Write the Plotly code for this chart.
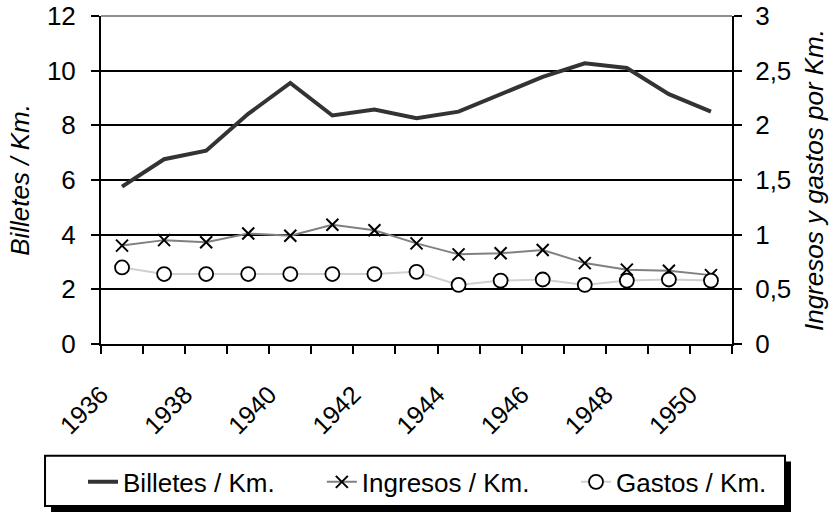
import plotly.graph_objects as go

years = list(range(1936, 1951))
billetes = [5.76, 6.76, 7.07, 8.42, 9.55, 8.36, 8.58, 8.26, 8.50, 9.14, 9.77, 10.27, 10.10, 9.14, 8.50]
ingresos = [0.90, 0.95, 0.93, 1.01, 0.99, 1.09, 1.04, 0.92, 0.82, 0.83, 0.86, 0.74, 0.68, 0.67, 0.63]
gastos = [0.70, 0.64, 0.64, 0.64, 0.64, 0.64, 0.64, 0.66, 0.54, 0.58, 0.59, 0.54, 0.58, 0.59, 0.58]

tick_years = list(range(1936, 1952))
tick_text = [str(y) if (y % 2 == 0 and y <= 1950) else "" for y in tick_years]

# annual values plotted mid-year
xpos = [y + 0.5 for y in years]

FONT = "Liberation Sans, Arial, sans-serif"

fig = go.Figure()
fig.add_trace(go.Scatter(
    x=xpos, y=billetes, name="Billetes / Km.", mode="lines",
    line=dict(color="#333333", width=4), yaxis="y", legend="legend"))
fig.add_trace(go.Scatter(
    x=xpos, y=ingresos, name="Ingresos / Km.", mode="lines+markers",
    line=dict(color="#808080", width=2),
    marker=dict(symbol="x-thin", size=12, color="black",
                line=dict(color="black", width=2)),
    yaxis="y2", legend="legend2"))
fig.add_trace(go.Scatter(
    x=xpos, y=gastos, name="Gastos / Km.", mode="lines+markers",
    line=dict(color="#d0d0d0", width=2),
    marker=dict(symbol="circle", size=14, color="white",
                line=dict(color="black", width=1.8)),
    yaxis="y2", legend="legend3"))

leg_common = dict(orientation="h", xanchor="left", y=-0.349, yanchor="top",
                  bgcolor="rgba(0,0,0,0)", borderwidth=0, font=dict(size=26))

fig.update_layout(
    width=838, height=518,
    margin=dict(l=101, r=106, t=16, b=170),
    paper_bgcolor="white", plot_bgcolor="white",
    separators=",.",
    font=dict(family=FONT, size=26, color="black"),
    showlegend=True,
    legend=dict(x=-0.0285, **leg_common),
    legend2=dict(x=0.3500, **leg_common),
    legend3=dict(x=0.7528, **leg_common),
    xaxis=dict(range=[1936, 1951], tickmode="array", tickvals=tick_years,
               ticktext=tick_text, tickangle=-45, ticks="outside", ticklen=8,
               tickwidth=2, tickcolor="black", showline=True, linecolor="black",
               linewidth=2, showgrid=False, zeroline=False,
               ticklabelstandoff=16,
               tickfont=dict(size=25), automargin=False),
    yaxis=dict(range=[0, 12], dtick=2, ticks="outside", ticklen=8, tickwidth=2,
               tickcolor="black", showline=True, linecolor="black", linewidth=2,
               showgrid=True, gridcolor="black", gridwidth=2, zeroline=False,
               ticklabelstandoff=10,
               title=dict(text="Billetes / Km.", standoff=10,
                          font=dict(size=26, style="italic")),
               automargin=False),
    yaxis2=dict(range=[0, 3], dtick=0.5, overlaying="y", side="right",
                ticks="outside", ticklen=8, tickwidth=2, tickcolor="black",
                showline=True, linecolor="black", linewidth=2, showgrid=False,
                zeroline=False, ticklabelstandoff=8,
                title=dict(text="Ingresos y gastos por Km.", standoff=14,
                           font=dict(size=26, style="italic")),
                automargin=False),
)

# grey top border line of the plot area
fig.add_shape(type="line", xref="paper", yref="paper", x0=0, x1=1, y0=1, y1=1,
              line=dict(color="#909090", width=2), layer="above")
# legend box shadow and frame
fig.add_shape(type="rect", xref="paper", yref="paper",
              x0=-0.0792, x1=1.0935, y0=-0.512, y1=-0.3584,
              fillcolor="black", line=dict(width=0), layer="below")
fig.add_shape(type="rect", xref="paper", yref="paper",
              x0=-0.0887, x1=1.0840, y0=-0.494, y1=-0.3404,
              fillcolor="white", line=dict(color="black", width=2), layer="below")

fig.write_html("out.html", config={"displayModeBar": False},
               post_script="document.body.style.margin='0';")
